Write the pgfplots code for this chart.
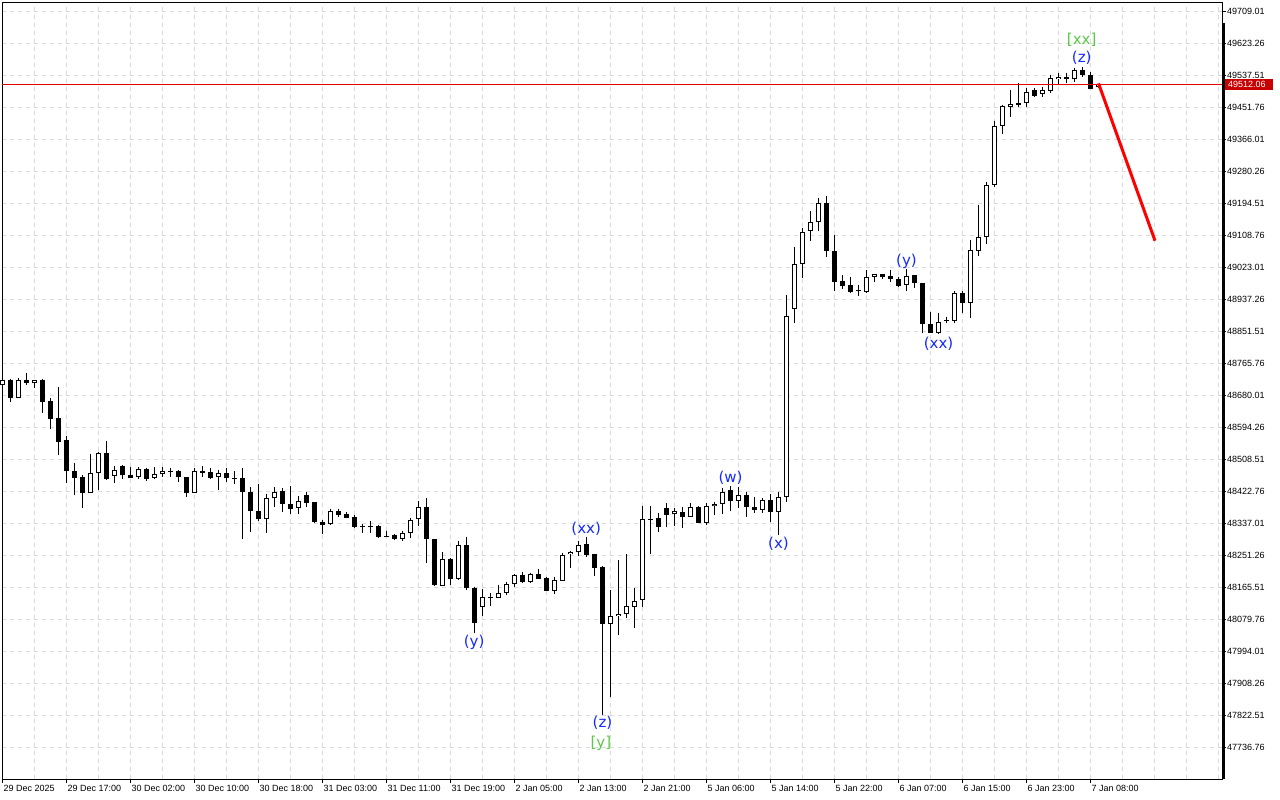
\documentclass[border=0pt]{standalone}
\usepackage{fontspec}
\setmainfont{Liberation Sans}
\newfontfamily\wavefont{DejaVu Sans}
\usepackage{pgfplots}
\usepackage{pgfplotstable}
\pgfplotsset{compat=1.18}

\definecolor{gridgray}{RGB}{218,218,218}
\definecolor{waveblue}{RGB}{20,40,255}
\definecolor{wavegreen}{RGB}{90,200,70}
\definecolor{mtred}{RGB}{225,0,0}
\definecolor{boxred}{RGB}{200,0,0}

% white candles (close > open)
\pgfplotstableread{
i o h l c
0 48705.9 48725.5 48701.3 48720.1
2 48672.7 48724.7 48670.5 48720.1
4 48711.3 48720.1 48697.9 48719.8
11 48418.1 48521.8 48416.5 48470.3
12 48470.3 48527.1 48425.3 48523.7
14 48462.8 48489.6 48444.9 48478.9
17 48459.4 48486.1 48454.0 48480.8
19 48458.3 48486.1 48455.6 48467.4
20 48467.4 48486.1 48459.4 48476.2
24 48418.1 48484.2 48416.5 48475.4
27 48459.4 48478.9 48425.3 48470.3
33 48346.8 48414.6 48310.5 48403.1
34 48403.1 48432.5 48380.5 48419.1
37 48377.9 48409.2 48361.0 48396.6
41 48333.4 48375.2 48331.5 48369.0
50 48294.8 48316.2 48289.4 48310.9
51 48309.3 48349.5 48297.5 48344.9
52 48346.8 48395.8 48329.6 48378.9
55 48168.8 48259.1 48166.9 48240.1
57 48186.5 48289.1 48182.8 48277.6
60 48112.5 48159.1 48087.6 48137.7
62 48136.6 48169.8 48135.0 48150.0
63 48150.0 48179.4 48143.9 48172.4
64 48172.4 48200.1 48166.0 48196.6
66 48179.4 48203.6 48175.1 48199.3
69 48155.4 48193.0 48146.4 48184.1
70 48182.2 48257.3 48180.1 48251.1
71 48253.0 48262.6 48217.1 48259.1
72 48258.3 48289.1 48248.4 48277.6
76 48066.9 48157.3 47871.3 48087.6
77 48087.6 48237.7 48036.7 48092.1
78 48092.1 48253.8 48081.5 48114.4
79 48110.9 48161.8 48056.3 48128.6
80 48130.5 48382.4 48112.5 48346.8
84 48360.2 48377.9 48329.6 48369.0
86 48353.7 48391.3 48352.9 48380.5
88 48337.7 48389.6 48331.5 48382.4
89 48382.4 48393.9 48358.3 48387.8
90 48387.0 48429.9 48360.2 48420.8
92 48396.6 48434.2 48376.3 48411.9
95 48371.7 48403.1 48364.5 48398.5
97 48367.1 48420.8 48304.7 48405.7
98 48405.7 48947.9 48393.9 48891.6
99 48909.6 49077.3 48873.7 49030.2
100 49030.2 49126.7 48994.3 49116.5
101 49120.2 49173.0 49093.6 49142.8
102 49142.8 49207.1 49120.2 49193.7
108 48956.7 49014.9 48952.4 48996.9
109 48996.9 49004.2 48983.5 49003.4
113 48974.7 49016.7 48959.4 48999.6
117 48846.8 48898.8 48842.3 48876.3
119 48878.2 48958.6 48873.7 48952.4
121 48927.3 49096.3 48884.9 49068.5
122 49065.8 49189.1 49053.7 49104.1
123 49102.5 49249.9 49083.8 49242.7
124 49242.7 49415.0 49238.1 49400.8
125 49400.8 49457.1 49378.4 49454.4
126 49452.5 49497.3 49425.7 49459.8
128 49461.7 49501.7 49452.5 49492.7
130 49486.1 49506.4 49477.2 49497.3
131 49495.4 49537.5 49488.5 49528.6
132 49526.0 49543.7 49513.4 49531.3
134 49526.0 49557.1 49519.5 49550.9
137 49504.0 49513.5 49502.0 49512.06
}\upbars

% black candles (close <= open)
\pgfplotstableread{
i o h l c
1 48720.1 48722.8 48661.9 48672.7
3 48720.1 48738.1 48707.5 48711.3
5 48720.1 48722.8 48632.5 48661.9
6 48663.8 48671.1 48588.0 48616.4
7 48618.3 48702.1 48519.1 48554.7
8 48559.3 48570.0 48444.9 48477.0
9 48476.2 48496.9 48411.9 48458.3
10 48460.9 48465.5 48377.9 48418.1
13 48523.7 48556.6 48452.0 48454.0
15 48489.6 48492.3 48455.6 48464.7
16 48465.5 48486.1 48457.5 48458.3
18 48481.6 48485.0 48450.2 48455.6
21 48476.2 48484.2 48459.4 48473.5
22 48476.2 48477.6 48447.6 48459.4
23 48459.4 48460.1 48405.7 48416.5
25 48476.2 48489.6 48459.4 48471.6
26 48473.5 48484.2 48454.0 48458.3
28 48470.3 48483.4 48447.6 48456.7
29 48458.0 48475.4 48440.6 48455.3
30 48456.7 48483.4 48293.2 48420.8
31 48420.8 48432.5 48313.2 48369.8
32 48369.0 48441.4 48342.2 48346.8
35 48422.6 48429.9 48367.1 48387.0
36 48387.8 48436.0 48361.0 48375.2
38 48411.9 48419.9 48378.9 48391.3
39 48392.3 48393.1 48336.1 48339.5
40 48339.5 48344.9 48307.4 48332.3
42 48369.0 48375.2 48353.7 48358.3
43 48360.2 48367.1 48350.3 48351.1
44 48352.1 48358.3 48322.4 48326.7
45 48327.5 48333.4 48310.5 48324.8
46 48327.8 48342.2 48308.9 48325.1
47 48328.8 48331.5 48297.5 48300.2
48 48302.0 48316.2 48298.6 48299.3
49 48303.9 48307.4 48291.3 48294.8
53 48378.9 48403.1 48228.9 48293.2
54 48294.0 48295.3 48168.0 48170.7
56 48240.1 48242.2 48170.7 48186.5
58 48277.6 48300.6 48157.3 48161.9
59 48163.5 48166.1 48042.0 48069.6
61 48138.5 48148.4 48114.4 48135.8
65 48196.6 48205.5 48175.1 48179.4
67 48199.3 48212.7 48186.8 48187.6
68 48188.7 48190.8 48154.6 48155.4
73 48281.1 48300.6 48246.5 48251.1
74 48253.7 48254.5 48194.8 48217.1
75 48219.8 48221.6 47822.3 48066.9
81 48347.6 48382.4 48253.0 48344.9
82 48349.5 48362.9 48313.5 48327.0
83 48376.3 48389.6 48327.0 48358.3
85 48365.5 48380.5 48322.4 48353.7
87 48380.5 48381.1 48336.9 48337.7
91 48425.3 48436.0 48369.8 48396.6
93 48411.9 48420.8 48353.7 48378.9
94 48378.9 48405.7 48362.9 48371.7
96 48398.5 48413.8 48340.3 48367.1
103 49193.7 49214.0 49048.9 49066.6
104 49066.6 49108.6 48959.4 48983.5
105 48985.4 49001.5 48964.0 48972.8
106 48974.7 48995.4 48954.1 48956.7
107 48962.6 48974.7 48945.2 48959.9
110 49003.4 49004.2 48990.6 48996.9
111 48998.8 49014.9 48983.5 48990.6
112 48991.4 48996.9 48970.1 48972.8
114 49001.5 49002.8 48967.4 48979.6
115 48979.6 48980.3 48846.8 48869.3
116 48869.3 48903.1 48845.2 48846.8
118 48879.6 48889.7 48873.7 48876.9
120 48952.4 48958.6 48899.9 48927.3
127 49461.7 49515.3 49452.5 49457.9
129 49497.3 49501.7 49478.0 49481.8
133 49531.3 49543.7 49516.9 49526.0
135 49550.9 49558.1 49532.6 49536.3
136 49537.5 49544.7 49499.2 49500.0
}\dnbars

\begin{document}
\begin{tikzpicture}
\path[use as bounding box] (0,0) rectangle (1280pt,800pt);
\begin{axis}[
  at={(2pt,21pt)}, anchor=south west,
  scale only axis, width=1220pt, height=777pt,
  xmin=-0.0625, xmax=152.4375,
  ymin=47650.8, ymax=49733.1,
  clip=false,
  axis line style={black, line width=0.8pt},
  tick align=outside,
  xtick pos=bottom, ytick pos=right,
  xticklabel pos=lower, yticklabel pos=right,
  xtick={0,8,...,136},
  xticklabels={29 Dec 2025, 29 Dec 17:00, 30 Dec 02:00, 30 Dec 10:00,
    30 Dec 18:00, 31 Dec 03:00, 31 Dec 11:00, 31 Dec 19:00, 2 Jan 05:00,
    2 Jan 13:00, 2 Jan 21:00, 5 Jan 06:00, 5 Jan 14:00, 5 Jan 22:00,
    6 Jan 07:00, 6 Jan 15:00, 6 Jan 23:00, 7 Jan 08:00},
  minor xtick={4,12,20,28,36,44,52,60,68,76,84,92,100,108,116,124,132,140,144,148,152},
  ytick={47736.76,47822.51,47908.26,47994.01,48079.76,48165.51,48251.26,
    48337.01,48422.76,48508.51,48594.26,48680.01,48765.76,48851.51,
    48937.26,49023.01,49108.76,49194.51,49280.26,49366.01,49451.76,
    49537.51,49623.26,49709.01},
  yticklabels={47736.76,47822.51,47908.26,47994.01,48079.76,48165.51,48251.26,
    48337.01,48422.76,48508.51,48594.26,48680.01,48765.76,48851.51,
    48937.26,49023.01,49108.76,49194.51,49280.26,49366.01,49451.76,
    49537.51,49623.26,49709.01},
  major tick length=4pt,
  minor tick length=0pt,
  tick style={black, line width=0.8pt},
  xticklabel style={anchor=north west, inner sep=0pt, xshift=1pt, yshift=-2pt,
    font=\fontsize{9}{10}\selectfont},
  yticklabel style={anchor=west, inner sep=0pt, xshift=1pt,
    font=\fontsize{9}{10}\selectfont},
  xmajorgrids, xminorgrids, ymajorgrids,
  grid style={gridgray, dash pattern=on 4pt off 4pt, line width=0.8pt},
  minor grid style={gridgray, dash pattern=on 4pt off 4pt, line width=0.8pt},
]

% wicks
\addplot[draw=none, mark=none, forget plot,
  error bars/.cd, y dir=minus, y explicit, error mark=none,
  error bar style={draw=black, line width=1pt}]
  table[x=i, y=h, y error minus expr=\thisrow{h}-\thisrow{l}] {\upbars};
\addplot[draw=none, mark=none, forget plot,
  error bars/.cd, y dir=minus, y explicit, error mark=none,
  error bar style={draw=black, line width=1pt}]
  table[x=i, y=h, y error minus expr=\thisrow{h}-\thisrow{l}] {\dnbars};

% black bodies
\addplot[draw=none, mark=none, forget plot,
  error bars/.cd, y dir=plus, y explicit, error mark=none,
  error bar style={draw=black, line width=5pt}]
  table[x=i, y=c, y error plus expr=\thisrow{o}-\thisrow{c}] {\dnbars};

% white bodies: outline then fill
\addplot[draw=none, mark=none, forget plot,
  error bars/.cd, y dir=plus, y explicit, error mark=none,
  error bar style={draw=black, line width=5pt}]
  table[x=i, y=o, y error plus expr=\thisrow{c}-\thisrow{o}] {\upbars};
\addplot[draw=none, mark=none, forget plot,
  error bars/.cd, y dir=plus, y explicit, error mark=none,
  error bar style={draw=white, line width=3pt}]
  table[x=i, y expr=\thisrow{o}+2.68, y error plus expr=\thisrow{c}-\thisrow{o}-5.36] {\upbars};

% current price line and projection
\addplot[mtred, line width=1pt, forget plot] coordinates {(-0.0625,49512.06) (152.4375,49512.06)};
\addplot[red, line width=3pt, forget plot] coordinates {(137,49515) (144.06,49093.4)};

% right axis thick border
\draw[black, line width=2.5pt] ([xshift=1.25pt]rel axis cs:1,0) -- ([xshift=1.25pt]rel axis cs:1,0.973);

% price label
\fill[boxred] (axis cs:152.4375,49512.06) ++(3pt,-5.2pt) rectangle ++(48pt,10.4pt);
\node[anchor=west, text=white, inner sep=0pt, font=\fontsize{9}{10}\selectfont]
  at (axis cs:152.4375,49512.06) [xshift=6pt] {49512.06};

% wave labels
\begin{scope}[font=\wavefont\fontsize{15}{18}\selectfont]
\node[text=wavegreen] at (axis cs:134.9,49631.3) {[xx]};
\node[text=waveblue] at (axis cs:134.9,49583.1) {(z)};
\node[text=waveblue] at (axis cs:113.0,49038.2) {(y)};
\node[text=waveblue] at (axis cs:117.0,48816.0) {(xx)};
\node[text=waveblue] at (axis cs:91.0,48457.5) {(w)};
\node[text=waveblue] at (axis cs:97.0,48282.4) {(x)};
\node[text=waveblue] at (axis cs:72.96,48320.2) {(xx)};
\node[text=waveblue] at (axis cs:58.96,48015.8) {(y)};
\node[text=waveblue] at (axis cs:75.0,47800.1) {(z)};
\node[text=wavegreen] at (axis cs:74.8,47747.3) {[y]};
\end{scope}

\end{axis}
\end{tikzpicture}
\end{document}
